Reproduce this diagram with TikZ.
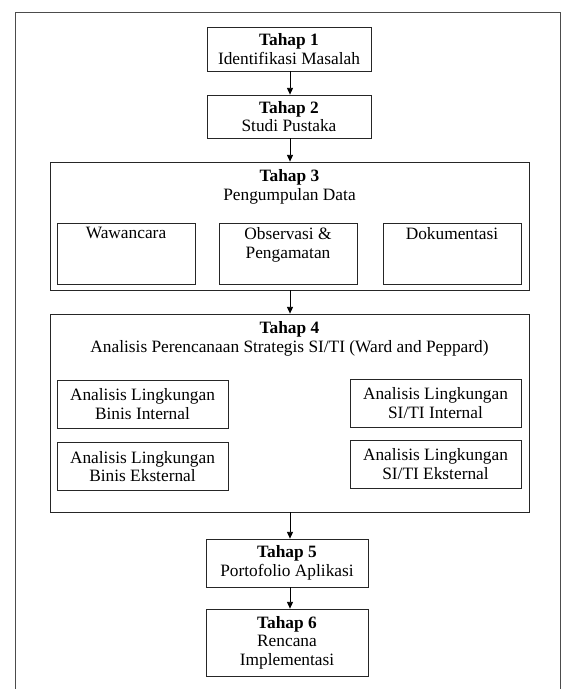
\documentclass[tikz,border=0pt]{standalone}
\usepackage{fontspec}
\setmainfont{Liberation Serif}
\usetikzlibrary{positioning, arrows.meta}

\tikzset{
  stage/.style={draw=black!85, line width=0.6pt, align=center, inner sep=0pt},
  group/.style={stage, minimum width=359.25pt},
  subbox/.style={stage, minimum width=103.5pt, minimum height=45.75pt},
  envbox/.style={stage, minimum width=128.25pt, minimum height=36pt},
  head/.style={anchor=north, inner sep=0pt, yshift=-6pt, align=center},
  subhead/.style={anchor=north, inner sep=0pt, yshift=-3.5pt, align=center},
  flow/.style={draw=black, line width=0.6pt, -{Triangle[length=5pt, width=4.5pt]}}
}

\begin{document}
\begin{tikzpicture}[x=0.75pt, y=-0.75pt, font=\fontsize{13}{14}\selectfont]
    \useasboundingbox (0,0) rectangle (563,689);
    \draw[black!70, line width=0.6pt] (15,689) -- (15,12) -- (560,12) -- (560,689);
    \coordinate (axis) at (290,0);
    % tahap 1 dan 2
    \node[stage, minimum width=123pt, minimum height=33pt] (t1) at (289,49) {\textbf{Tahap 1}\\Identifikasi Masalah};
    \node[stage, minimum width=123pt, minimum height=32.25pt] (t2) at (289,116.5) {\textbf{Tahap 2}\\Studi Pustaka};
    % tahap 3
    \node[group, minimum height=96pt, label={[head]90:{\textbf{Tahap 3}\\Pengumpulan Data}}] (t3) at (289.5,226) {};
    \node[subbox, label={[subhead]90:Wawancara}] (wawancara) at (126,253.5) {};
    \node[subbox, label={[subhead]90:{Observasi \&\\Pengamatan}}] (observasi) at (288,253.5) {};
    \node[subbox, label={[subhead]90:Dokumentasi}] (dokumentasi) at (452,253.5) {};
    % tahap 4
    \node[group, minimum height=148.5pt, label={[head]90:{\textbf{Tahap 4}\\Analisis Perencanaan Strategis SI/TI (Ward and Peppard)}}] (t4) at (289.5,413) {};
    \node[envbox] (bisint) at (142.5,404) {Analisis Lingkungan\\Binis Internal};
    \node[envbox] (biseks) at (142.5,466.5) {Analisis Lingkungan\\Binis Eksternal};
    \node[envbox] (tiint) at (435.5,403) {Analisis Lingkungan\\SI/TI Internal};
    \node[envbox] (tieks) at (435.5,464) {Analisis Lingkungan\\SI/TI Eksternal};
    % tahap 5 dan 6
    \node[stage, minimum width=121.5pt, minimum height=36pt] (t5) at (287,563) {\textbf{Tahap 5}\\Portofolio Aplikasi};
    \node[stage, minimum width=121.5pt, minimum height=50.25pt] (t6) at (287,642.5) {\textbf{Tahap 6}\\Rencana\\Implementasi};
    % panah
    \draw[flow] (t1.south -| axis) -- (t2.north -| axis);
    \draw[flow] (t2.south -| axis) -- (t3.north -| axis);
    \draw[flow] (t3.south -| axis) -- (t4.north -| axis);
    \draw[flow] (t4.south -| axis) -- (t5.north -| axis);
    \draw[flow] (t5.south -| axis) -- (t6.north -| axis);
\end{tikzpicture}
\end{document}
